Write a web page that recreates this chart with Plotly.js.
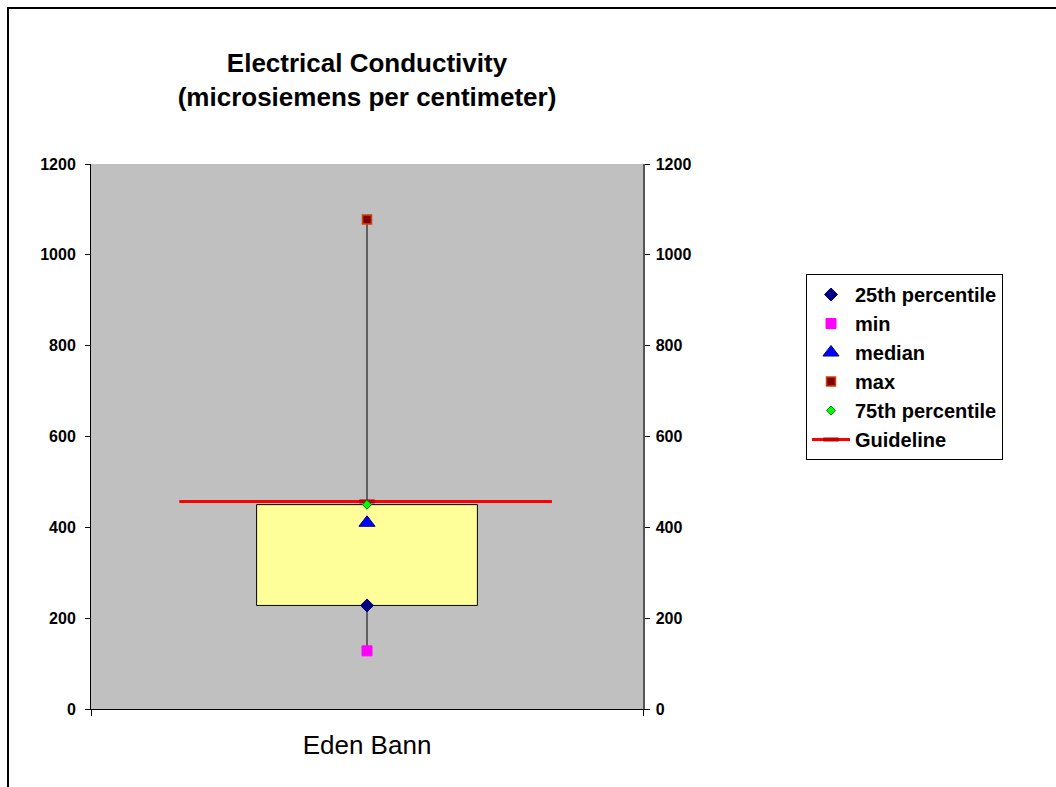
<!DOCTYPE html>
<html>
<head>
<meta charset="utf-8">
<script src="https://cdn.plot.ly/plotly-3.0.1.min.js"></script>
<style>
  html, body { margin: 0; padding: 0; background: #fff; }
  #wrap { position: relative; width: 1056px; height: 787px; overflow: hidden; }
  #chart { width: 1056px; height: 787px; }
  #frame { position: absolute; left: 7px; top: 7px; width: 1200px; height: 1000px;
           border-left: 2px solid #000; border-top: 2px solid #000; pointer-events: none; }
</style>
</head>
<body>
<div id="wrap">
  <div id="chart"></div>
  <div id="frame"></div>
</div>
<script>
// ---- data ----
var categories = ['Eden Bann'];
var p25 = [228];
var minVal = [128];
var median = [410];
var maxVal = [1078];
var p75 = [450];
var guideline = [457];
var guideX = [1, 0.66, 1.335];   // centre marker first, then line ends
var yTicks = [0, 200, 400, 600, 800, 1000, 1200];

var FONT = '"Liberation Sans", Arial, sans-serif';
var xc = [1];

// whisker segments (min->p25 and p75->max)
var whiskX = [xc[0], xc[0], null, xc[0], xc[0]];
var whiskY = [minVal[0], p25[0], null, p75[0], maxVal[0]];

var traces = [
  { type: 'bar', x: xc, y: [p75[0] - p25[0]], base: p25, width: 0.4,
    marker: { color: '#FFFF99', line: { color: '#000', width: 1 } },
    showlegend: false, hoverinfo: 'skip' },
  { type: 'scatter', mode: 'lines', x: whiskX, y: whiskY,
    line: { color: '#404040', width: 1.5 }, showlegend: false, hoverinfo: 'skip' },
  { type: 'scatter', mode: 'lines+markers', name: 'Guideline', legendrank: 6,
    x: guideX, y: [guideline[0], guideline[0], guideline[0]],
    line: { color: '#FF0000', width: 3 },
    marker: { symbol: 'line-ew', size: 11,
              line: { color: ['#C00000', 'rgba(0,0,0,0)', 'rgba(0,0,0,0)'], width: 4 } } },
  { type: 'scatter', mode: 'markers', name: '25th percentile', legendrank: 1,
    x: xc, y: p25, marker: { symbol: 'diamond', size: 10, color: '#000080', line: { color: '#000080', width: 1 } } },
  { type: 'scatter', mode: 'markers', name: 'min', legendrank: 2,
    x: xc, y: minVal, marker: { symbol: 'square', size: 10, color: '#FF00FF', line: { color: '#FF00FF', width: 1 } } },
  { type: 'scatter', mode: 'markers', name: 'median', legendrank: 3,
    x: xc, y: median, marker: { symbol: 'triangle-up', size: 14, color: '#0000FF', line: { color: '#000080', width: 1 } } },
  { type: 'scatter', mode: 'markers', name: 'max', legendrank: 4,
    x: xc, y: maxVal, marker: { symbol: 'square', size: 9, color: '#800000', line: { color: '#CC4400', width: 1.5 } } },
  { type: 'scatter', mode: 'markers', name: '75th percentile', legendrank: 5,
    x: xc, y: p75, marker: { symbol: 'diamond', size: 7, color: '#00FF00', line: { color: '#008000', width: 1 } } },
  { type: 'scatter', mode: 'markers', x: xc, y: [null], yaxis: 'y2', showlegend: false, hoverinfo: 'skip' }
];
traces.forEach(function (t, i) { if (t.showlegend !== false) t.legendgroup = 'g' + i; });

var layout = {
  width: 1056, height: 787,
  margin: { l: 91, r: 413, t: 164, b: 78, pad: 0 },
  paper_bgcolor: '#FFFFFF',
  plot_bgcolor: '#C0C0C0',
  font: { family: FONT, color: '#000' },
  title: {
    text: '<b>Electrical Conductivity<br>(microsiemens per centimeter)</b>',
    font: { family: FONT, size: 26, color: '#000' },
    x: 0.5, xref: 'paper', xanchor: 'center',
    y: 1 - 72 / 787, yref: 'container', yanchor: 'top'
  },
  xaxis: {
    range: [0.5, 1.5], tickvals: xc, ticktext: categories, ticks: '',
    ticklabelstandoff: 13,
    tickfont: { family: FONT, size: 26, color: '#000' },
    minor: { tickmode: 'linear', tick0: 0.5, dtick: 1, ticks: 'outside', ticklen: 6, tickcolor: '#000', tickwidth: 1 },
    showline: true, linecolor: '#000', linewidth: 1, showgrid: false, zeroline: false, fixedrange: true
  },
  yaxis: {
    range: [0, 1200], tickvals: yTicks, ticktext: yTicks.map(String), ticks: 'outside', ticklen: 5,
    ticklabelstandoff: 6,
    tickcolor: '#000', tickfont: { family: FONT, size: 16, color: '#000', weight: 'bold' },
    showline: true, linecolor: '#000', linewidth: 1, showgrid: false, zeroline: false, fixedrange: true
  },
  yaxis2: {
    range: [0, 1200], overlaying: 'y', side: 'right', tickvals: yTicks, ticktext: yTicks.map(String),
    ticks: 'outside', ticklen: 5, tickcolor: '#000', ticklabelstandoff: 3,
    tickfont: { family: FONT, size: 16, color: '#000', weight: 'bold' },
    showline: true, linecolor: '#555', linewidth: 1.5, showgrid: false, zeroline: false, fixedrange: true
  },
  showlegend: true,
  legend: {
    x: (806 - 91) / 552, y: (709 - 274) / 545, xanchor: 'left', yanchor: 'top',
    bgcolor: '#FFFFFF', bordercolor: '#000', borderwidth: 1,
    font: { family: FONT, size: 20, color: '#000', weight: 'bold' },
    itemwidth: 38,
    tracegroupgap: 0, itemclick: false, itemdoubleclick: false
  }
};

Plotly.newPlot('chart', traces, layout, { displayModeBar: false, staticPlot: true });
</script>
</body>
</html>
